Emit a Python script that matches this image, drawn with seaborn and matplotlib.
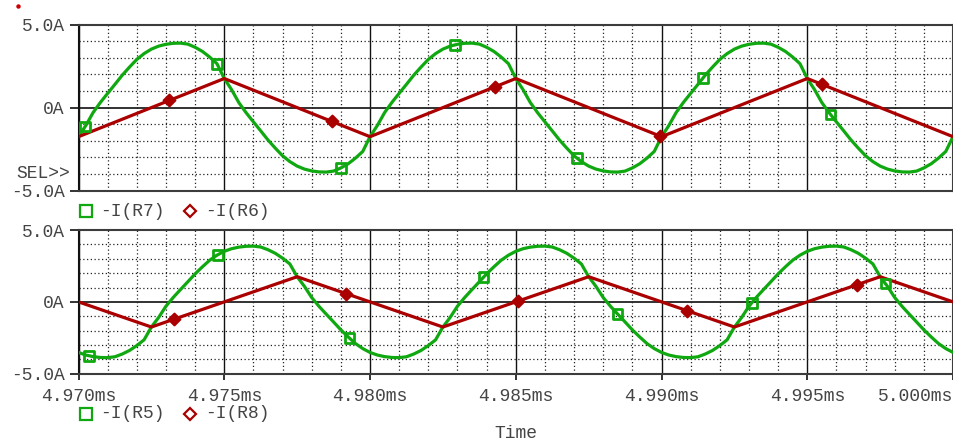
import numpy as np
import pandas as pd
import seaborn as sns
import matplotlib
matplotlib.use("Agg")
import matplotlib.pyplot as plt
from matplotlib.lines import Line2D

# ---- sampled waveforms (time in ms, current in A) ----
time_ms = np.linspace(4.970, 5.000, 121)   # 0.25 us sample spacing

i_r7 = [
    -1.75, -1.08, -0.30, 0.31, 0.86, 1.40, 1.95, 2.44, 2.90, 3.25, 3.52, 3.70, 3.81, 3.87, 3.88, 3.82, 3.63, 3.38, 3.04, 2.64,
    1.75, 1.08, 0.30, -0.31, -0.86, -1.40, -1.95, -2.44, -2.90, -3.25, -3.52, -3.70, -3.81, -3.87, -3.88, -3.82, -3.63, -3.38, -3.04, -2.64,
    -1.75, -1.08, -0.30, 0.31, 0.86, 1.40, 1.95, 2.44, 2.90, 3.25, 3.52, 3.70, 3.81, 3.87, 3.88, 3.82, 3.63, 3.38, 3.04, 2.64,
    1.75, 1.08, 0.30, -0.31, -0.86, -1.40, -1.95, -2.44, -2.90, -3.25, -3.52, -3.70, -3.81, -3.87, -3.88, -3.82, -3.63, -3.38, -3.04, -2.64,
    -1.75, -1.08, -0.30, 0.31, 0.86, 1.40, 1.95, 2.44, 2.90, 3.25, 3.52, 3.70, 3.81, 3.87, 3.88, 3.82, 3.63, 3.38, 3.04, 2.64,
    1.75, 1.08, 0.30, -0.31, -0.86, -1.40, -1.95, -2.44, -2.90, -3.25, -3.52, -3.70, -3.81, -3.87, -3.88, -3.82, -3.63, -3.38, -3.04, -2.64,
    -1.75,
]

i_r5 = [
    -3.52, -3.70, -3.81, -3.87, -3.88, -3.82, -3.63, -3.38, -3.04, -2.64,
    -1.75, -1.08, -0.30, 0.31, 0.86, 1.40, 1.95, 2.44, 2.90, 3.25, 3.52, 3.70, 3.81, 3.87, 3.88, 3.82, 3.63, 3.38, 3.04, 2.64,
    1.75, 1.08, 0.30, -0.31, -0.86, -1.40, -1.95, -2.44, -2.90, -3.25, -3.52, -3.70, -3.81, -3.87, -3.88, -3.82, -3.63, -3.38, -3.04, -2.64,
    -1.75, -1.08, -0.30, 0.31, 0.86, 1.40, 1.95, 2.44, 2.90, 3.25, 3.52, 3.70, 3.81, 3.87, 3.88, 3.82, 3.63, 3.38, 3.04, 2.64,
    1.75, 1.08, 0.30, -0.31, -0.86, -1.40, -1.95, -2.44, -2.90, -3.25, -3.52, -3.70, -3.81, -3.87, -3.88, -3.82, -3.63, -3.38, -3.04, -2.64,
    -1.75, -1.08, -0.30, 0.31, 0.86, 1.40, 1.95, 2.44, 2.90, 3.25, 3.52, 3.70, 3.81, 3.87, 3.88, 3.82, 3.63, 3.38, 3.04, 2.64,
    1.75, 1.08, 0.30, -0.31, -0.86, -1.40, -1.95, -2.44, -2.90, -3.25, -3.52,
]

# triangular currents: corner points
r6_ms = [4.970, 4.975, 4.980, 4.985, 4.990, 4.995, 5.000]
i_r6 = [-1.75, 1.75, -1.75, 1.75, -1.75, 1.75, -1.75]

r8_ms = [4.970, 4.9725, 4.9775, 4.9825, 4.9875, 4.9925, 4.9975, 5.000]
i_r8 = [0.0, -1.75, 1.75, -1.75, 1.75, -1.75, 1.75, 0.0]

# trace identification markers
r7_mark_ms = [4.97023, 4.97475, 4.97900, 4.98292, 4.98710, 4.99142, 4.99580]
r7_mark_a = [-1.13, 2.64, -3.63, 3.77, -3.04, 1.77, -0.42]
r6_mark_ms = [4.97312, 4.97869, 4.98429, 4.98995, 4.99550]
r6_mark_a = [0.43, -0.83, 1.25, -1.72, 1.40]
r5_mark_ms = [4.97036, 4.97478, 4.97930, 4.98389, 4.98849, 4.99310, 4.99768]
r5_mark_a = [-3.75, 3.28, -2.53, 1.71, -0.84, -0.06, 1.27]
r8_mark_ms = [4.97329, 4.97918, 4.98506, 4.99088, 4.99672]
r8_mark_a = [-1.20, 0.57, 0.04, -0.62, 1.20]

# axis ticks and labels
x_major = [4.970, 4.975, 4.980, 4.985, 4.990, 4.995, 5.000]
x_tick_labels = ["4.970ms", "4.975ms", "4.980ms", "4.985ms", "4.990ms", "4.995ms", "5.000ms"]
y_major = [-5, 0, 5]
y_tick_labels = ["-5.0A", "0A", "5.0A"]
top_legend = ["-I(R7)", "-I(R6)"]
bottom_legend = ["-I(R5)", "-I(R8)"]

GREEN = "#10a810"
RED = "#aa0000"
INK = "#444444"

sns.set_theme(style="white")
plt.rcParams["font.family"] = ["Liberation Mono", "DejaVu Sans Mono"]

fig = plt.figure(figsize=(9.54, 4.44), dpi=100)
ax_top = fig.add_axes([0.0823, 0.5705, 0.9167, 0.3743])
ax_bot = fig.add_axes([0.0823, 0.1583, 0.9167, 0.3236])


def style_panel(ax, show_x):
    ax.set_xlim(4.970, 5.000)
    ax.set_ylim(-5, 5)
    ax.set_xticks(x_major)
    ax.set_xticks(np.linspace(4.970, 5.000, 31), minor=True)
    ax.set_yticks(y_major)
    ax.set_yticks(np.arange(-5, 6, 1), minor=True)
    ax.set_axisbelow(True)
    ax.grid(which="minor", color="#222222", ls=(0, (1, 2)), lw=0.9)
    ax.grid(which="major", axis="x", color="#111111", lw=1.0, ls="-")
    ax.grid(which="major", axis="y", color="#222222", lw=1.3, ls="-")
    for s in ax.spines.values():
        s.set_color("#3c3c3c")
        s.set_linewidth(1.5)
    ax.spines["left"].set_color("#111111")
    ax.set_yticklabels(y_tick_labels)
    ax.tick_params(axis="y", which="major", length=6.5, width=1.2, pad=3.5,
                   direction="out", labelsize=13, colors="#111111", labelcolor=INK, left=True)
    ax.tick_params(which="minor", length=0)
    if show_x:
        ax.set_xticklabels(x_tick_labels)
        ax.tick_params(axis="x", which="major", length=4.5, width=1.2, pad=6,
                       direction="out", labelsize=13, colors="#111111", labelcolor=INK, bottom=True)
        lbls = ax.get_xticklabels()
        lbls[-1].set_horizontalalignment("right")
    else:
        ax.tick_params(axis="x", which="major", length=0, labelbottom=False)
    ax.set_xlabel("")
    ax.set_ylabel("")


for ax in (ax_top, ax_bot):
    style_panel(ax, ax is ax_bot)

LW = 2.3

# upper panel
sns.lineplot(x=time_ms, y=i_r7, ax=ax_top, color=GREEN, lw=LW, estimator=None, zorder=3)
sns.lineplot(x=r6_ms, y=i_r6, ax=ax_top, color=RED, lw=LW, estimator=None, zorder=4)
sns.scatterplot(x=r7_mark_ms, y=r7_mark_a, ax=ax_top, marker="s", s=48,
                facecolor="none", edgecolor=GREEN, linewidth=2.0, zorder=5)
sns.scatterplot(x=r6_mark_ms, y=r6_mark_a, ax=ax_top, marker="D", s=36,
                color=RED, edgecolor=RED, linewidth=1.5, zorder=6)

# lower panel
sns.lineplot(x=time_ms, y=i_r5, ax=ax_bot, color=GREEN, lw=LW, estimator=None, zorder=3)
sns.lineplot(x=r8_ms, y=i_r8, ax=ax_bot, color=RED, lw=LW, estimator=None, zorder=4)
sns.scatterplot(x=r5_mark_ms, y=r5_mark_a, ax=ax_bot, marker="s", s=48,
                facecolor="none", edgecolor=GREEN, linewidth=2.0, zorder=5)
sns.scatterplot(x=r8_mark_ms, y=r8_mark_a, ax=ax_bot, marker="D", s=36,
                color=RED, edgecolor=RED, linewidth=1.5, zorder=6)

for ax in (ax_top, ax_bot):
    ax.set_xlim(4.970, 5.000)
    ax.set_ylim(-5, 5)
    ax.set_xlabel("")
    ax.set_ylabel("")

ax_top.text(-0.0095, -3.98, "SEL>>", transform=ax_top.get_yaxis_transform(),
            ha="right", va="center", fontsize=13, color=INK)


def trace_legend(y_px, names):
    y = 1 - y_px / 444
    fig.add_artist(Line2D([86 / 954], [y], marker="s", ms=8, mfc="none", mec=GREEN,
                          mew=1.6, ls="none", transform=fig.transFigure))
    fig.text(100 / 954, y, names[0], ha="left", va="center", fontsize=13, color=INK)
    fig.add_artist(Line2D([190 / 954], [y], marker="D", ms=6.5, mfc="none", mec=RED,
                          mew=1.6, ls="none", transform=fig.transFigure))
    fig.text(205 / 954, y, names[1], ha="left", va="center", fontsize=13, color=INK)


trace_legend(211.5, top_legend)
trace_legend(413.5, bottom_legend)

fig.text(515.5 / 954, 1 - 433 / 444, "Time", ha="center", va="center", fontsize=13, color=INK)

# small cursor dot in the corner
fig.add_artist(Line2D([18 / 954], [1 - 6 / 444], marker="o", ms=2.2, color="#cc0000",
                      ls="none", transform=fig.transFigure))

fig.savefig("out.png", dpi=100)
